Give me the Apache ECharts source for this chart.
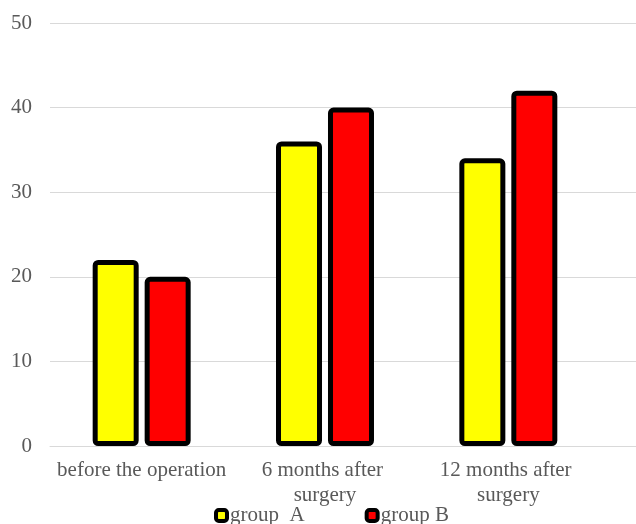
<!DOCTYPE html>
<html>
<head>
<meta charset="utf-8">
<script src="https://cdn.jsdelivr.net/npm/echarts@6/dist/echarts.min.js"></script>
<style>
  html, body { margin: 0; padding: 0; background: #fff; }
  #chart { width: 636px; height: 524px; }
</style>
</head>
<body>
<div id="chart"></div>
<script>
// Categories, series and axis ticks
const categories = ['before the operation', '6 months after surgery', '12 months after surgery'];
const groupA = [22, 36, 34];
const groupB = [20, 40, 42];
const seriesNames = ['group  A', 'group B'];
const yTicks = { min: 0, max: 50, interval: 10 };

const textColor = '#595959';
const fontFamily = '"Liberation Serif", "DejaVu Serif", serif';

const chart = echarts.init(document.getElementById('chart'), null, { renderer: 'canvas' });

const barStyle = (color) => ({
  color: color,
  borderColor: '#000',
  borderWidth: 5,
  borderRadius: 3
});

chart.setOption({
  animation: false,
  backgroundColor: '#fff',
  textStyle: { fontFamily: fontFamily },
  grid: [
    // full-width grid carrying the value axis and gridlines
    { left: 50, right: 0, top: 23, bottom: 78 },
    // grid holding the bars and category labels
    { left: 50, width: 550, top: 23, bottom: 78 }
  ],
  xAxis: [
    { gridIndex: 0, type: 'category', data: categories, show: true,
      axisLine: { show: true, lineStyle: { color: '#d9d9d9', width: 1 } },
      axisTick: { show: false }, axisLabel: { show: false } },
    { gridIndex: 1, type: 'category', data: categories,
      axisLine: { show: false }, axisTick: { show: false },
      axisLabel: {
        color: textColor, fontSize: 21, fontFamily: fontFamily,
        margin: 12, lineHeight: 25,
        width: 182, overflow: 'break', interval: 0
      } }
  ],
  yAxis: [
    { gridIndex: 0, type: 'value', min: yTicks.min, max: yTicks.max, interval: yTicks.interval,
      axisLine: { show: false }, axisTick: { show: false },
      axisLabel: { color: textColor, fontSize: 21, fontFamily: fontFamily, margin: 18 },
      splitLine: { show: true, lineStyle: { color: '#d9d9d9', width: 1 } } },
    { gridIndex: 1, type: 'value', min: yTicks.min, max: yTicks.max, interval: yTicks.interval,
      show: false, splitLine: { show: false } }
  ],
  legend: {
    top: 505,
    left: 214,
    padding: 0,
    itemWidth: 11,
    itemHeight: 11,
    itemGap: 60,
    icon: 'roundRect',
    textStyle: { color: textColor, fontSize: 21, fontFamily: fontFamily, padding: [0, 0, 0, -2] },
    itemStyle: { borderWidth: 4, borderColor: '#000' },
    data: seriesNames
  },
  series: [
    { name: seriesNames[0], type: 'bar', xAxisIndex: 1, yAxisIndex: 1,
      data: groupA, barWidth: 46, barGap: '13%', itemStyle: barStyle('#ffff00') },
    { name: seriesNames[1], type: 'bar', xAxisIndex: 1, yAxisIndex: 1,
      data: groupB, barWidth: 46, barGap: '13%', itemStyle: barStyle('#ff0000') }
  ]
});
</script>
</body>
</html>
